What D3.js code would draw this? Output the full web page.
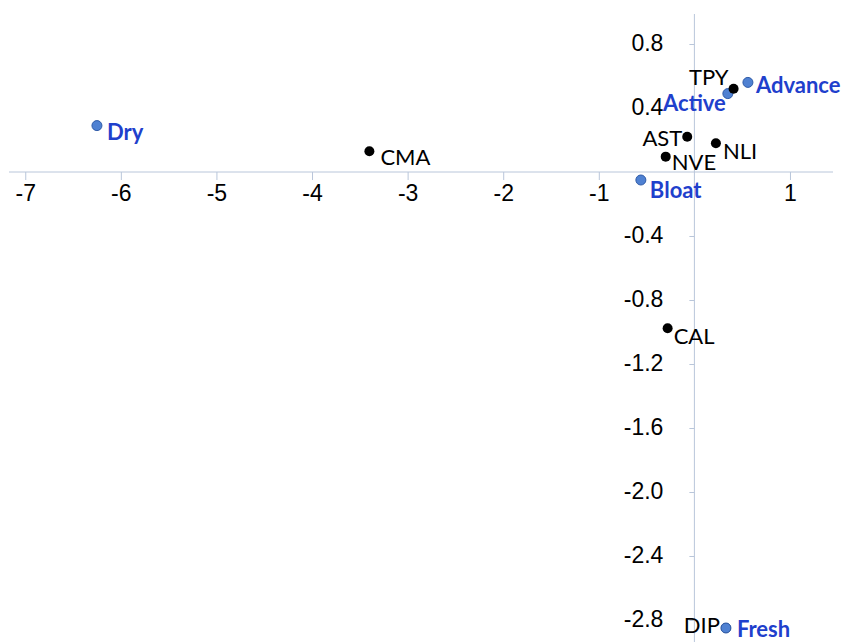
<!DOCTYPE html>
<html>
<head>
<meta charset="utf-8">
<script src="https://cdn.jsdelivr.net/npm/d3@7"></script>
<style>
	body { margin: 0; background: #fff; }
	svg { display: block; font-family: Lato, "Open Sans", sans-serif; }
</style>
</head>
<body>
<div id="chart"></div>
<script>
// blue (attributes) and black (samples) points
const blueNames = ['Dry', 'Advance', 'Active', 'Bloat', 'Fresh'];
const blueX = [-6.25, 0.56, 0.35, -0.56, 0.33];
const blueY = [0.29, 0.56, 0.49, -0.05, -2.85];

const blackNames = ['CMA', 'TPY', 'AST', 'NLI', 'NVE', 'CAL', 'DIP'];
const blackX = [-3.40, 0.41, -0.075, 0.225, -0.30, -0.28, 0.33];
const blackY = [0.13, 0.52, 0.22, 0.18, 0.096, -0.977, -2.85];

const xTicks = [-7, -6, -5, -4, -3, -2, -1, 1];
const yTicks = [0.8, 0.4, -0.4, -0.8, -1.2, -1.6, -2.0, -2.4, -2.8];

// where each label sits relative to its point: [dx, dy, anchor]
const labelPos = {
	Dry: [10, 14, 'start'], Advance: [8, 11, 'start'], Active: [-2, 17, 'end'],
	Bloat: [9, 18, 'start'], Fresh: [11, 9, 'start'],
	CMA: [11, 14, 'start'], TPY: [-5, -4, 'end'], AST: [-5, 9, 'end'],
	NLI: [7, 16, 'start'], NVE: [6, 13, 'start'], CAL: [6, 16, 'start'], DIP: [-6, 5, 'end']
};

const width = 843, height = 642;
const axisColor = '#b9c6da';

const svg = d3.select('#chart').append('svg')
	.attr('width', width)
	.attr('height', height);

const x = d3.scaleLinear().domain([-7.17, 1.45]).range([9, 833]);
const y = d3.scaleLinear().domain([-3, 1]).range([652, 12]);

// x axis through y = 0
let gx = svg.append('g')
	.attr('transform', `translate(0,${y(0)})`)
	.call(d3.axisBottom(x).tickValues(xTicks).tickSize(8).tickPadding(5).tickFormat(d3.format('d')));
gx.select('.domain').attr('stroke', axisColor).attr('d', `M${x.range()[0]},0H${x.range()[1]}`);
gx.selectAll('.tick line').attr('stroke', axisColor);
gx.selectAll('.tick text').attr('fill', '#000').attr('font-size', '23px')
	.text(d => d < 0 ? '-' + Math.abs(d) : d);

// y axis through x = 0
let gy = svg.append('g')
	.attr('transform', `translate(${x(0)},0)`)
	.call(d3.axisLeft(y).tickValues(yTicks).tickSize(5).tickPadding(26).tickFormat(d3.format('.1f')));
gy.select('.domain').attr('stroke', axisColor).attr('d', `M0,${y.range()[1] + 2}V${y.range()[0]}`);
gy.selectAll('.tick line').attr('stroke', axisColor);
gy.selectAll('.tick text').attr('fill', '#000').attr('font-size', '23px')
	.attr('dy', '0.3em')
	.text(d => d3.format('.1f')(d).replace('−', '-'));

const black = blackNames.map((n, i) => ({ name: n, x: blackX[i], y: blackY[i] }));
const blue = blueNames.map((n, i) => ({ name: n, x: blueX[i], y: blueY[i] }));

// DIP sits under Fresh, the other black points sit over the blue ones
const under = black.filter(d => d.name === 'DIP');
const over = black.filter(d => d.name !== 'DIP');

svg.append('g').selectAll('circle').data(under).join('circle')
	.attr('cx', d => x(d.x)).attr('cy', d => y(d.y)).attr('r', 5)
	.attr('fill', '#000');

svg.append('g').selectAll('circle').data(blue).join('circle')
	.attr('cx', d => x(d.x)).attr('cy', d => y(d.y)).attr('r', 5)
	.attr('fill', '#4f81d2').attr('stroke', '#2f5ba8').attr('stroke-width', 1);

svg.append('g').selectAll('circle').data(over).join('circle')
	.attr('cx', d => x(d.x)).attr('cy', d => y(d.y)).attr('r', 5)
	.attr('fill', '#000');

svg.append('g').selectAll('text').data(black).join('text')
	.attr('x', d => x(d.x) + labelPos[d.name][0])
	.attr('y', d => y(d.y) + labelPos[d.name][1])
	.attr('text-anchor', d => labelPos[d.name][2])
	.attr('font-size', '22px')
	.attr('fill', '#000')
	.text(d => d.name);

svg.append('g').selectAll('text').data(blue).join('text')
	.attr('x', d => x(d.x) + labelPos[d.name][0])
	.attr('y', d => y(d.y) + labelPos[d.name][1])
	.attr('text-anchor', d => labelPos[d.name][2])
	.attr('font-size', '22px')
	.attr('font-weight', 'bold')
	.attr('fill', '#1f40cc')
	.text(d => d.name);
</script>
</body>
</html>
